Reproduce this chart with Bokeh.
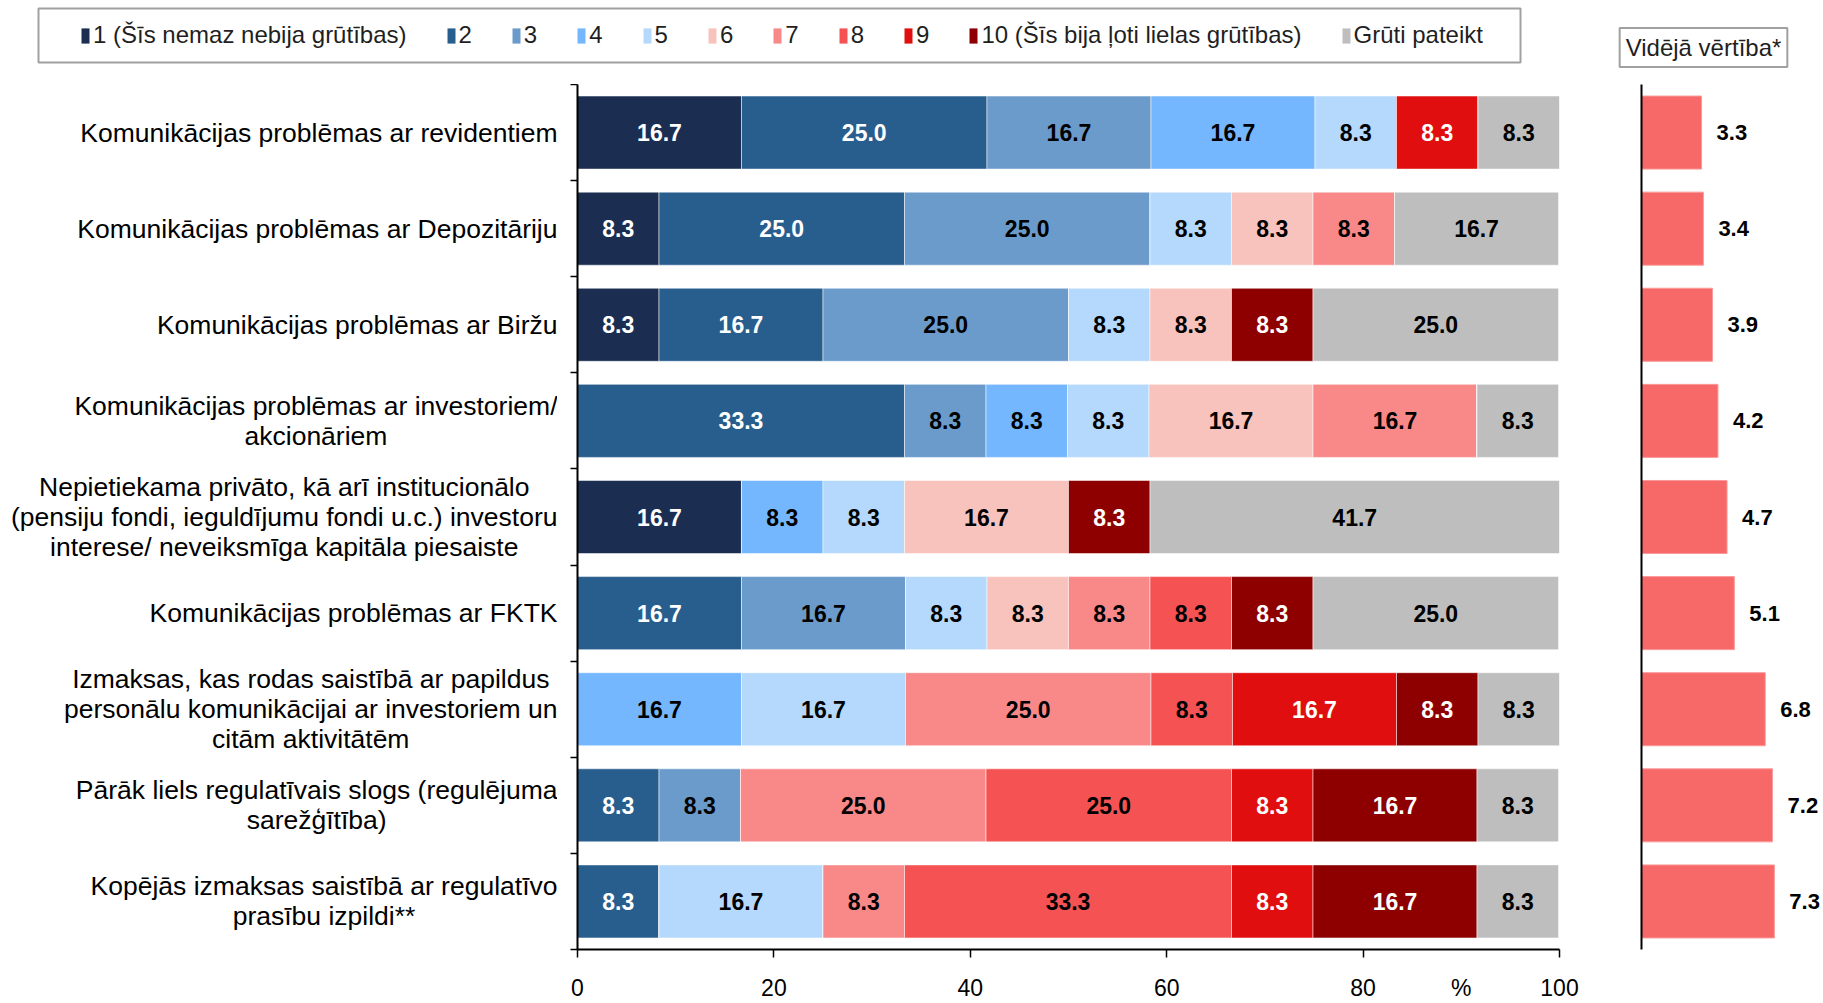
from bokeh.plotting import figure
from bokeh.models import (Range1d, LinearAxis, FixedTicker,
                          Legend, LegendItem, Label, ColumnDataSource)
from bokeh.layouts import column, row
from bokeh.embed import file_html
from bokeh.resources import INLINE
from bokeh.core.properties import value

FONT = "Liberation Sans"

categories = [
    "Komunikācijas problēmas ar revidentiem",
    "Komunikācijas problēmas ar Depozitāriju",
    "Komunikācijas problēmas ar Biržu",
    "Komunikācijas problēmas ar investoriem/\nakcionāriem",
    "Nepietiekama privāto, kā arī institucionālo\n(pensiju fondi, ieguldījumu fondi u.c.) investoru\ninterese/ neveiksmīga kapitāla piesaiste",
    "Komunikācijas problēmas ar FKTK",
    "Izmaksas, kas rodas saistībā ar papildus\npersonālu komunikācijai ar investoriem un\ncitām aktivitātēm",
    "Pārāk liels regulatīvais slogs (regulējuma\nsarežģītība)",
    "Kopējās izmaksas saistībā ar regulatīvo\nprasību izpildi**",
]

series_names = ["1 (Šīs nemaz nebija grūtības)", "2", "3", "4", "5", "6", "7", "8", "9",
                "10 (Šīs bija ļoti lielas grūtības)", "Grūti pateikt"]

s1 = [16.7, 8.3, 8.3, 0, 16.7, 0, 0, 0, 0]
s2 = [25.0, 25.0, 16.7, 33.3, 0, 16.7, 0, 8.3, 8.3]
s3 = [16.7, 25.0, 25.0, 8.3, 0, 16.7, 0, 8.3, 0]
s4 = [16.7, 0, 0, 8.3, 8.3, 0, 16.7, 0, 0]
s5 = [8.3, 8.3, 8.3, 8.3, 8.3, 8.3, 16.7, 0, 16.7]
s6 = [0, 8.3, 8.3, 16.7, 16.7, 8.3, 0, 0, 0]
s7 = [0, 8.3, 0, 16.7, 0, 8.3, 25.0, 25.0, 8.3]
s8 = [0, 0, 0, 0, 0, 8.3, 8.3, 25.0, 33.3]
s9 = [8.3, 0, 0, 0, 0, 0, 16.7, 8.3, 8.3]
s10 = [0, 0, 8.3, 0, 8.3, 8.3, 8.3, 16.7, 16.7]
s_grut = [8.3, 16.7, 25.0, 8.3, 41.7, 25.0, 8.3, 8.3, 8.3]

mean_values = [3.3, 3.4, 3.9, 4.2, 4.7, 5.1, 6.8, 7.2, 7.3]

x_ticks = [0, 20, 40, 60, 80, 100]
x_unit_label = "%"
x_unit_pos = 90

colors = ["#1b2e52", "#285e8e", "#6b9bcb", "#75b7fe", "#b5d9fc", "#f8c3bd",
          "#f98989", "#f55353", "#e00e0e", "#8e0000", "#bebebe"]
label_colors = ["white", "white", "black", "black", "black", "black",
                "black", "black", "white", "white", "black"]

all_series = [s1, s2, s3, s4, s5, s6, s7, s8, s9, s10, s_grut]
keys = ["k%d" % i for i in range(len(all_series))]

n = len(categories)
ypos = [n - 0.5 - i for i in range(n)]  # first category on top

data = {"y": ypos}
for k, s in zip(keys, all_series):
    data[k] = s
source = ColumnDataSource(data)

y_range = Range1d(0, n)
ROW_H = 919
BOTTOM = 48

# ---------- legend strip ----------
lf = figure(width=1823, height=84, toolbar_location=None, output_backend="svg",
            x_range=Range1d(0, 1823), y_range=Range1d(84, 0),
            x_axis_location=None, y_axis_location=None,
            min_border=0, outline_line_color=None)
lf.grid.visible = False
# legend frame box
lf.quad(left=[38], right=[1520], top=[8], bottom=[62], fill_color=None,
        line_color="#a0a0a0", line_width=2)
items = []
for name, c in zip(series_names, colors):
    r = lf.rect(x=[-100], y=[-100], width=1, height=1, fill_color=c, line_color=None)
    items.append(LegendItem(label=name, renderers=[r]))
legend = Legend(items=items, orientation="horizontal", location=(80, 35),
                spacing=39, glyph_width=10, glyph_height=19, label_standoff=3,
                padding=0, margin=0, label_height=24, label_width=0,
                label_text_font=FONT, label_text_font_size="24px", label_text_color="#1f1f1f",
                border_line_color=None, background_fill_alpha=0)
lf.add_layout(legend, "center")
lf.add_layout(Label(x=1703, y=37, x_units="screen", y_units="screen", text="Vidējā vērtība*",
                    text_align="center", text_baseline="middle", text_font=FONT,
                    text_font_size="24px", text_color="#1f1f1f",
                    border_line_color="#a0a0a0", border_line_width=2,
                    background_fill_color="white", padding=6))

# ---------- category labels ----------
lab = figure(width=557, height=ROW_H, toolbar_location=None, output_backend="svg",
             x_range=Range1d(0, 1), y_range=y_range,
             x_axis_location=None, y_axis_location=None,
             min_border_left=0, min_border_right=0, min_border_top=0, min_border_bottom=BOTTOM,
             outline_line_color=None)
lab.grid.visible = False
lab.text(x=[1] * n, y=ypos, text=categories, anchor=value("center_right"),
         text_align="center", text_baseline="middle", text_line_height=1.0,
         text_font=value(FONT), text_font_size="26.5px", text_color="black")

# ---------- main stacked chart ----------
p = figure(width=1051, height=ROW_H, toolbar_location=None, output_backend="svg",
           x_range=Range1d(0, 100), y_range=y_range, y_axis_location=None,
           min_border_left=20, min_border_right=49, min_border_top=0, min_border_bottom=BOTTOM,
           outline_line_color=None)
p.grid.visible = False

p.hbar_stack(keys, y="y", height=0.76, color=colors, source=source,
             line_color="white", line_width=1, line_alpha=0.5)

tx, ty, tt, tc = [], [], [], []
for i in range(n):
    left = 0.0
    for j, s in enumerate(all_series):
        v = s[i]
        if v > 0:
            tx.append(left + v / 2)
            ty.append(ypos[i])
            tt.append("%.1f" % v)
            tc.append(label_colors[j])
        left += v
p.text(x=tx, y=ty, text=tt, text_color=tc, text_align="center", text_baseline="middle",
       text_font=value(FONT), text_font_size="23px", text_font_style="bold")

# y axis line with ticks at category boundaries
tick_axis = LinearAxis(ticker=FixedTicker(ticks=list(range(n + 1))), bounds=(0, n),
                       axis_line_color="black", axis_line_width=2,
                       major_tick_line_color="black", major_tick_line_width=1.5,
                       major_tick_out=7, major_tick_in=0, minor_tick_line_color=None,
                       major_label_text_font_size="1px", major_label_text_alpha=0,
                       major_label_standoff=0)
p.add_layout(tick_axis, "left")

# x axis: tick marks drawn as "minor" ticks, labels (incl. the % unit) as major ticks
xa = p.xaxis[0]
xa.ticker = FixedTicker(ticks=x_ticks + [x_unit_pos], minor_ticks=x_ticks)
xa.major_label_overrides = {x_unit_pos: x_unit_label}
xa.axis_line_color = "black"
xa.axis_line_width = 2
xa.major_tick_line_color = None
xa.major_tick_out = 0
xa.major_tick_in = 0
xa.minor_tick_line_color = "black"
xa.minor_tick_line_width = 1.5
xa.minor_tick_out = 8
xa.minor_tick_in = 0
xa.major_label_standoff = 17
xa.major_label_text_font = FONT
xa.major_label_text_font_size = "23px"
xa.major_label_text_color = "black"

# ---------- mean panel ----------
m = figure(width=215, height=ROW_H, toolbar_location=None, output_backend="svg",
           x_range=Range1d(0, 10), y_range=y_range,
           x_axis_location=None, y_axis_location=None,
           min_border_left=33, min_border_right=0, min_border_top=0, min_border_bottom=BOTTOM,
           outline_line_color=None)
m.grid.visible = False
msrc = ColumnDataSource({"y": ypos, "mean": mean_values,
                         "lab": ["%.1f" % v for v in mean_values]})
m.hbar(y="y", right="mean", left=0, height=0.76, source=msrc,
       fill_color="#f76868", line_color="#fb9a9a", line_width=1)
m.text(x="mean", y="y", text="lab", source=msrc, x_offset=15,
       text_align="left", text_baseline="middle", text_color="black",
       text_font=value(FONT), text_font_size="22px", text_font_style="bold")
m_axis = LinearAxis(ticker=FixedTicker(ticks=[]), bounds=(0, n),
                    axis_line_color="black", axis_line_width=2,
                    major_tick_line_color=None, minor_tick_line_color=None,
                    major_label_text_font_size="1px", major_label_text_alpha=0,
                    major_label_standoff=0)
m.add_layout(m_axis, "left")

layout = column(lf, row(lab, p, m))
open("out.html", "w").write(file_html(layout, INLINE))
